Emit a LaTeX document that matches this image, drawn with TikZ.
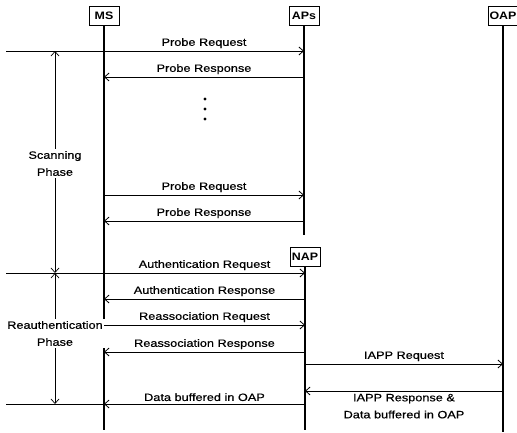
\documentclass[tikz,border=0pt]{standalone}
\usepackage{fontspec}
\setmainfont{Liberation Sans}
\newfontfamily\lblfont[FakeStretch=1.2,FakeBold=0.6]{Liberation Sans}
\newfontfamily\actfont[FakeStretch=1.15]{Liberation Sans Bold}
\usetikzlibrary{arrows.meta}
\begin{document}
\begin{tikzpicture}[x=1pt,y=-1pt,
  actor/.style={draw,line width=0.8pt,inner sep=1pt,minimum width=30pt,minimum height=19pt,font=\actfont\fontsize{10.8}{12}\selectfont},
  life/.style={line width=1.4pt},
  msg/.style={line width=0.9pt,-{Straight Barb[length=4.5pt,width=8pt,line width=0.8pt]}},
  lbl/.style={font=\lblfont\fontsize{10.6}{17}\selectfont,inner sep=1pt,align=center},
  phase/.style={line width=0.7pt,{Straight Barb[length=4.5pt,width=8pt,line width=0.7pt]}-{Straight Barb[length=4.5pt,width=8pt,line width=0.7pt]}},
  phtext/.style={font=\lblfont\fontsize{10.6}{17}\selectfont,fill=white,inner sep=2pt,align=center},
  dotmark/.style={fill=black,circle,inner sep=0pt,minimum size=3.2pt}
  ]
\useasboundingbox (0,0) rectangle (517,433);
% actors
\node[actor] (ms) at (104,16) {MS};
\node[actor] (aps) at (304,15.5) {APs};
\node[actor] (oap) at (503,15.5) {OAP};
\node[actor] (nap) at (305,256.5) {NAP};
% lifeline ends
\coordinate (msend) at (105,430);
\coordinate (apsend) at (304,235);
\coordinate (oapend) at (503,432);
\coordinate (napend) at (304,430);
\draw[life] (ms.south) -- (ms.south |- msend);
\draw[life] (aps.south) -- (apsend);
\draw[life] (oap.south) -- (oap.south |- oapend);
\draw[life] (nap.south) -- (nap.south |- napend);
% left boundary lines
\coordinate (b1) at (6,51);
\coordinate (b2) at (6,273);
\coordinate (b3) at (6,404);
\coordinate (p1) at (55,51);
\coordinate (p2) at (55,273);
\coordinate (p3) at (55,404);
\draw[line width=0.9pt] (b1) -- (ms |- b1);
\draw[line width=0.9pt] (b2) -- (ms |- b2);
\draw[line width=0.9pt] (b3) -- (ms |- b3);
% phases
\draw[phase] (p1) -- (p2);
\draw[phase] (p2) -- (p3);
\node[phtext] (scan) at (55,163.5) {Scanning\\Phase};
\node[phtext] (reauth) at (55,333.5) {Reauthentication\\Phase};
% messages
\draw[msg] (ms |- 0,51) -- node[lbl,above=1.5pt] (l1) {Probe Request} (aps |- 0,51);
\draw[msg] (aps |- 0,77) -- node[lbl,above=1.5pt] (l2) {Probe Response} (ms |- 0,77);
\node[dotmark] (d1) at (205,99) {};
\node[dotmark] (d2) at (205,109) {};
\node[dotmark] (d3) at (205,119) {};
\draw[msg] (ms |- 0,195) -- node[lbl,above=1.5pt] (l3) {Probe Request} (aps |- 0,195);
\draw[msg] (aps |- 0,221) -- node[lbl,above=1.5pt] (l4) {Probe Response} (ms |- 0,221);
\draw[msg] (ms |- 0,273) -- node[lbl,above=1.5pt] (l5) {Authentication Request} (nap |- 0,273);
\draw[msg] (nap |- 0,299) -- node[lbl,above=1.5pt] (l6) {Authentication Response} (ms |- 0,299);
\draw[msg] (ms |- 0,325) -- node[lbl,above=1.5pt] (l7) {Reassociation Request} (nap |- 0,325);
\draw[msg] (nap |- 0,352) -- node[lbl,above=1.5pt] (l8) {Reassociation Response} (ms |- 0,352);
\draw[msg] (nap |- 0,364) -- node[lbl,above=1.5pt] (l9) {IAPP Request} (oap |- 0,364);
\draw[msg] (oap |- 0,391) -- node[lbl,below=1.5pt] (l10) {IAPP Response \&\\Data buffered in OAP} (nap |- 0,391);
\draw[msg] (nap |- 0,404) -- node[lbl,above=1.5pt] (l11) {Data buffered in OAP} (ms |- 0,404);
\end{tikzpicture}
\end{document}
